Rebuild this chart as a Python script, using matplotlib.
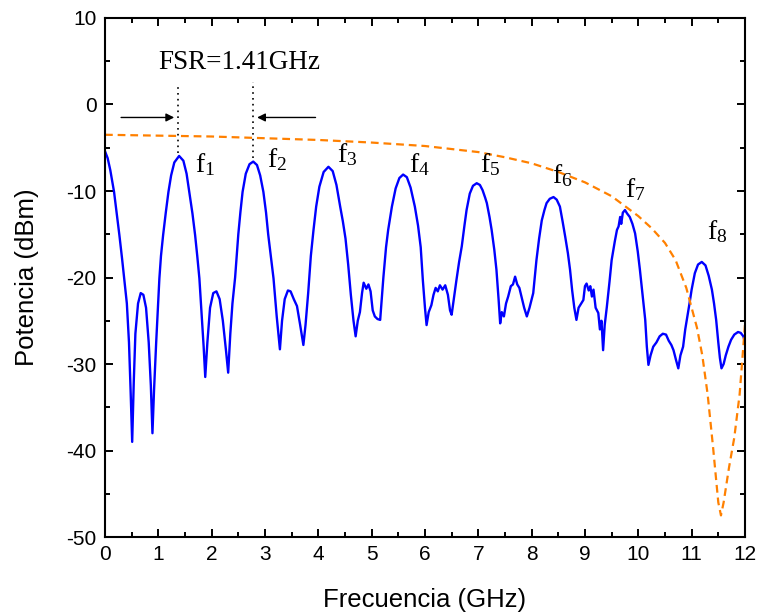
import matplotlib
matplotlib.use("Agg")
import matplotlib.pyplot as plt

plt.rcParams["font.family"] = ["Liberation Sans", "DejaVu Sans"]
plt.rcParams["axes.unicode_minus"] = False

# measured spectrum (blue)
freq = [0.00, 0.05, 0.10, 0.17, 0.22, 0.27, 0.32, 0.36, 0.41, 0.45, 0.48, 0.51, 0.54, 0.57, 0.62, 0.67,
        0.72, 0.77, 0.82, 0.86, 0.89, 0.92, 0.96, 1.00, 1.02, 1.05, 1.09, 1.14, 1.19, 1.24, 1.30, 1.39,
        1.47, 1.53, 1.58, 1.64, 1.69, 1.73, 1.77, 1.81, 1.85, 1.88, 1.92, 1.97, 2.03, 2.09, 2.15, 2.21,
        2.27, 2.31, 2.35, 2.39, 2.44, 2.50, 2.54, 2.58, 2.64, 2.71, 2.78, 2.85, 2.91, 2.97, 3.02, 3.06,
        3.11, 3.16, 3.22, 3.28, 3.32, 3.37, 3.43, 3.48, 3.54, 3.60, 3.66, 3.72, 3.76, 3.81, 3.86, 3.91,
        3.96, 4.02, 4.10, 4.19, 4.27, 4.34, 4.41, 4.46, 4.51, 4.56, 4.61, 4.66, 4.70, 4.74, 4.78, 4.82,
        4.85, 4.90, 4.94, 4.98, 5.02, 5.06, 5.11, 5.16, 5.19, 5.22, 5.27, 5.31, 5.38, 5.45, 5.52, 5.59,
        5.66, 5.73, 5.81, 5.87, 5.92, 5.96, 6.00, 6.03, 6.07, 6.12, 6.16, 6.20, 6.24, 6.28, 6.33, 6.38,
        6.43, 6.47, 6.50, 6.54, 6.59, 6.64, 6.69, 6.74, 6.78, 6.84, 6.90, 6.97, 7.03, 7.08, 7.13, 7.16,
        7.21, 7.25, 7.30, 7.34, 7.38, 7.41, 7.44, 7.48, 7.52, 7.56, 7.61, 7.65, 7.69, 7.73, 7.77, 7.81,
        7.86, 7.91, 7.96, 8.03, 8.09, 8.14, 8.19, 8.24, 8.28, 8.34, 8.41, 8.47, 8.53, 8.58, 8.63, 8.68,
        8.72, 8.76, 8.80, 8.84, 8.88, 8.93, 8.97, 9.00, 9.03, 9.07, 9.10, 9.13, 9.16, 9.20, 9.25, 9.28,
        9.31, 9.34, 9.37, 9.41, 9.46, 9.50, 9.56, 9.60, 9.63, 9.66, 9.68, 9.71, 9.75, 9.79, 9.84, 9.89,
        9.94, 9.99, 10.03, 10.08, 10.13, 10.16, 10.19, 10.23, 10.28, 10.34, 10.40, 10.46, 10.52, 10.57,
        10.62, 10.66, 10.71, 10.75, 10.79, 10.84, 10.88, 10.91, 10.96, 11.00, 11.06, 11.12, 11.19, 11.26,
        11.32, 11.38, 11.42, 11.46, 11.50, 11.53, 11.56, 11.60, 11.64, 11.69, 11.74, 11.80, 11.87, 11.92,
        11.97, 12.00]
power = [-5.4, -6.2, -7.6, -10.1, -12.6, -15.1, -17.8, -20.1, -23.0, -27.5, -33.0, -39.0, -32.0, -26.5, -23.0, -21.8,
         -22.0, -23.5, -27.5, -32.5, -38.0, -33.0, -27.5, -22.5, -20.1, -17.5, -15.1, -12.5, -10.1, -8.2, -6.7, -5.95,
         -6.5, -8.0, -10.1, -12.6, -15.1, -17.5, -20.1, -24.0, -28.0, -31.5, -27.5, -23.5, -21.8, -21.6, -22.5, -25.0,
         -28.5, -31.0, -26.5, -23.0, -20.0, -15.0, -12.4, -10.1, -8.0, -6.9, -6.6, -7.0, -8.2, -10.1, -12.5, -15.0,
         -17.5, -20.1, -24.5, -28.3, -25.0, -22.5, -21.5, -21.6, -22.5, -23.3, -25.5, -27.8, -25.5, -21.8, -17.5, -14.5,
         -11.8, -9.5, -7.8, -7.2, -7.7, -9.3, -11.8, -13.5, -15.5, -18.5, -22.0, -25.0, -26.8, -25.0, -24.0, -21.8,
         -20.6, -21.3, -20.8, -21.6, -23.8, -24.5, -24.8, -24.9, -22.5, -20.0, -16.5, -14.5, -11.8, -9.7, -8.5, -8.1,
         -8.4, -9.6, -11.8, -14.0, -16.5, -20.3, -23.5, -25.5, -24.0, -23.2, -22.0, -21.2, -21.6, -20.9, -21.4, -20.9,
         -22.0, -23.8, -24.3, -22.5, -20.3, -18.2, -16.4, -14.0, -12.2, -10.3, -9.4, -9.1, -9.3, -9.9, -10.8, -11.4,
         -13.0, -14.5, -16.8, -19.1, -22.5, -25.3, -24.0, -24.5, -23.0, -22.2, -21.0, -20.8, -19.9, -20.8, -21.2, -22.2,
         -23.5, -24.5, -23.5, -21.8, -18.0, -15.5, -13.4, -12.2, -11.4, -10.9, -10.7, -11.0, -11.8, -13.5, -15.3, -17.2,
         -19.1, -21.5, -23.5, -24.9, -23.5, -23.0, -22.6, -21.0, -20.7, -21.5, -21.0, -22.2, -21.4, -23.5, -24.1, -26.0,
         -25.0, -28.4, -25.5, -23.4, -20.5, -18.0, -15.8, -14.5, -14.1, -13.0, -13.8, -12.5, -12.2, -12.6, -13.0, -13.8,
         -14.9, -17.0, -19.1, -22.0, -24.9, -28.0, -30.1, -29.0, -28.0, -27.5, -26.8, -26.5, -26.6, -27.3,
         -27.8, -28.4, -29.6, -30.5, -29.0, -28.0, -26.0, -24.9, -23.0, -21.4, -19.5, -18.5, -18.2, -18.6,
         -19.8, -21.4, -23.0, -24.9, -27.5, -29.3, -30.5, -30.0, -29.0, -28.0, -27.2, -26.6, -26.3, -26.4,
         -26.8, -27.5]

# response envelope (orange dashed)
env_freq = [0.0, 1.0, 2.0, 3.0, 4.0, 5.0, 6.0, 7.0, 7.5, 8.0, 8.5, 9.0, 9.5, 10.0, 10.25, 10.5,
            10.7, 10.9, 11.1, 11.2, 11.3, 11.4, 11.5, 11.55, 11.6, 11.7, 11.8, 11.9, 12.0]
env_power = [-3.5, -3.6, -3.7, -3.9, -4.1, -4.4, -4.8, -5.5, -6.1, -6.8, -7.8, -9.0, -10.6, -12.9, -14.3, -16.0,
             -18.0, -21.2, -25.8, -29.0, -33.5, -39.5, -46.0, -47.5, -46.0, -42.0, -38.5, -33.5, -25.5]

# peak labels
peak_labels = ["1", "2", "3", "4", "5", "6", "7", "8"]
label_x = [1.88, 3.23, 4.54, 5.89, 7.22, 8.57, 9.94, 11.48]
label_y = [-7.0, -6.4, -5.8, -6.9, -7.0, -8.2, -9.8, -14.7]

fig = plt.figure(figsize=(7.58, 6.16), dpi=100)
ax = fig.add_axes([0.1385, 0.1282, 0.8443, 0.8426])

ax.plot(freq, power, color="#0000ff", lw=1.7)
ax.plot(env_freq, env_power, color="#ff8000", lw=1.6, dashes=(3.5, 2.2))

# FSR marker
ax.plot([1.36, 1.36], [-5.6, 2.1], color="black", lw=1.2, ls=(0, (1, 2.5)))
ax.plot([2.77, 2.77], [-6.2, 2.6], color="black", lw=1.2, ls=(0, (1, 2.5)))
ax.annotate("", xy=(1.35, -1.5), xytext=(0.25, -1.5),
            arrowprops=dict(arrowstyle="-|>", color="black", lw=1, mutation_scale=12))
ax.annotate("", xy=(2.80, -1.5), xytext=(4.0, -1.5),
            arrowprops=dict(arrowstyle="-|>", color="black", lw=1, mutation_scale=12))
ax.text(2.52, 4.07, "FSR=1.41GHz", family="Liberation Serif", fontsize=19.5,
        ha="center", va="baseline")

for lab, x, y in zip(peak_labels, label_x, label_y):
    ax.text(x, y, r"$\mathregular{f_{%s}}$" % lab, family="Liberation Serif", fontsize=20,
            ha="center", va="center")

ax.set_xlim(0, 12)
ax.set_ylim(-50, 10)
ax.set_xticks(range(0, 13))
ax.set_xticks([i + 0.5 for i in range(12)], minor=True)
ax.set_yticks(range(-50, 11, 10))
ax.set_yticks(range(-45, 10, 10), minor=True)
ax.tick_params(which="both", direction="in", top=True, right=True, width=1.4, labelsize=15)
ax.tick_params(which="major", length=6, pad=6)
ax.tick_params(which="minor", length=3.5)
for s in ax.spines.values():
    s.set_linewidth(1.5)

ax.set_xlabel("Frecuencia (GHz)", fontsize=18.5, labelpad=17)
ax.set_ylabel("Potencia (dBm)", fontsize=18.5, labelpad=20)

fig.savefig("out.png", dpi=100)
